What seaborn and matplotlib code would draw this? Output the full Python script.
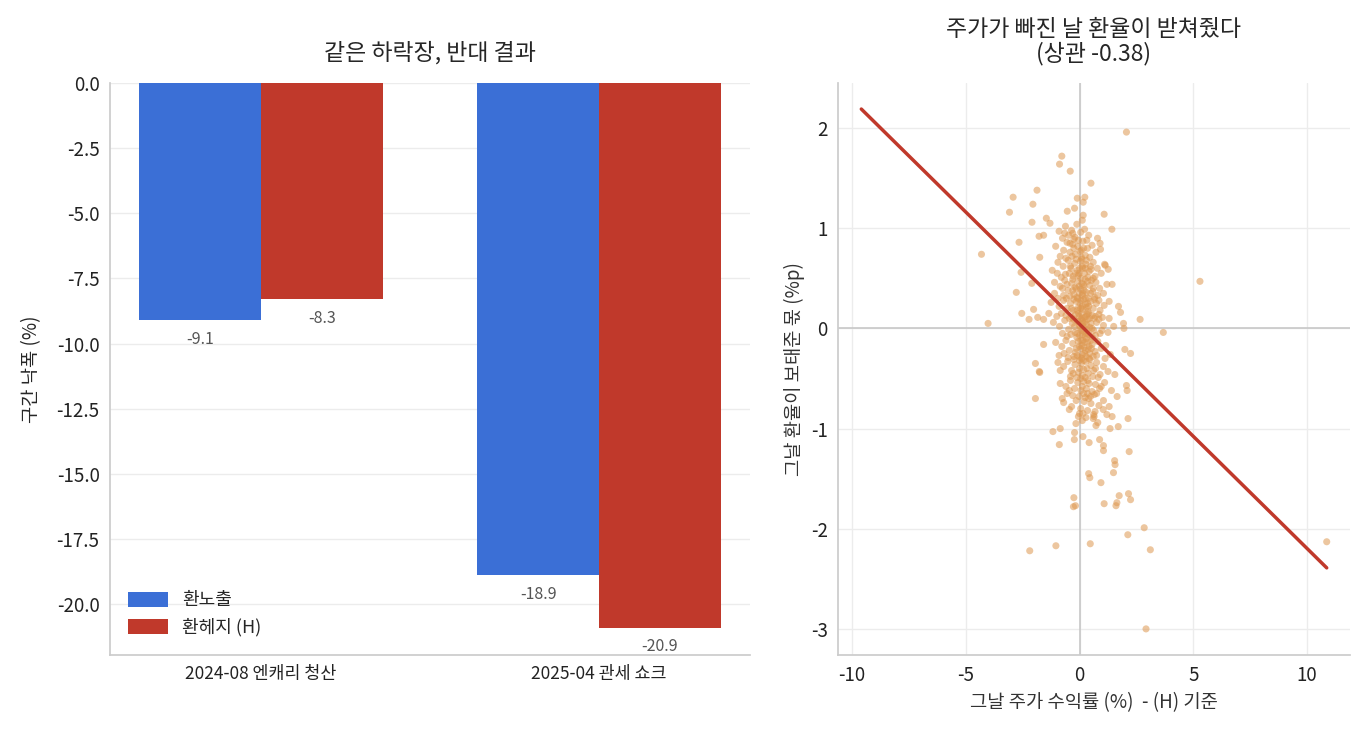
import numpy as np
import pandas as pd
import matplotlib
matplotlib.use("Agg")
import matplotlib.pyplot as plt
import seaborn as sns

# ---- bar data: drawdown per episode
episodes = ["2024-08 엔캐리 청산", "2025-04 관세 쇼크"]
unhedged = [-9.1, -18.9]
hedged = [-8.3, -20.9]
series_names = ["환노출", "환헤지 (H)"]

# ---- scatter data: daily stock return (%) vs FX contribution (%p)
outlier_pts = [
    (2.06, 1.96), (-0.78, 1.72), (-0.88, 1.64), (-0.41, 1.57), (0.50, 1.45),
    (-1.87, 1.38), (-2.92, 1.31), (-2.05, 1.24), (-3.08, 1.16), (0.23, 1.31),
    (-0.10, 1.30), (0.16, 1.26), (-0.54, 1.17), (-0.22, 1.20), (1.08, 1.14),
    (0.16, 1.13), (-1.46, 1.10), (-2.09, 1.06), (-1.30, 1.05), (1.42, 0.99),
    (-1.78, 0.92), (-1.58, 0.93), (-2.66, 0.86), (-4.31, 0.74), (5.29, 0.47),
    (-1.75, 0.71), (-2.57, 0.56), (-2.78, 0.36), (-2.10, 0.45), (-4.02, 0.05),
    (-2.54, 0.15), (-2.22, 0.09), (-1.84, 0.11), (-2.02, 0.19), (-1.58, 0.09),
    (-1.35, 0.15), (2.66, 0.09), (3.68, -0.04), (1.43, 0.44), (0.79, 0.90),
    (0.92, 0.79), (1.13, 0.63), (1.26, 0.59), (1.71, 0.22), (1.80, 0.16),
    (1.93, 0.05), (1.95, 0.00), (1.99, -0.21), (2.24, -0.25), (-1.58, -0.16),
    (-1.94, -0.35), (-1.77, -0.43), (-1.75, -0.44), (-1.94, -0.70), (-0.76, -0.70),
    (-1.17, -1.03), (-0.85, -1.00), (-0.89, -1.16), (-0.23, -1.11), (-0.22, -1.04),
    (0.15, -1.08), (0.42, -1.14), (0.88, -1.11), (1.05, -1.17), (1.05, -1.22),
    (2.18, -1.23), (1.54, -1.32), (1.56, -1.36), (1.49, -1.44), (0.40, -1.45),
    (0.45, -1.49), (0.94, -1.54), (-0.25, -1.69), (-0.27, -1.78), (-0.18, -1.77),
    (1.08, -1.75), (1.74, -1.67), (2.15, -1.65), (2.24, -1.71), (1.60, -1.77),
    (1.64, -1.74), (2.84, -1.99), (2.12, -2.06), (3.11, -2.21), (0.47, -2.15),
    (-1.04, -2.17), (-2.19, -2.22), (2.92, -3.00), (2.13, -0.90), (1.70, -0.98),
    (1.34, -1.00), (1.43, -0.88), (0.72, -0.97), (0.80, -0.94), (-0.45, -0.81),
    (-0.16, -0.95), (0.12, -0.92), (0.00, -0.85), (0.64, -0.88), (0.62, -0.86),
    (1.04, -0.81), (1.30, -0.78), (1.65, -0.68), (2.09, -0.62), (2.06, -0.57),
    (1.55, -0.46), (10.86, -2.13),
]

core_pts = [
    (-0.62, 1.02), (-0.35, 0.98), (-0.12, 1.04), (0.05, 0.96), (-0.48, 0.93),
    (-0.20, 0.91), (0.22, 0.99), (-0.75, 0.90), (0.40, 0.93), (-0.05, 0.88),
    (0.12, 1.08), (-0.90, 0.97),
    (-0.55, 0.86), (-0.30, 0.84), (-0.08, 0.82), (0.15, 0.87), (0.35, 0.80),
    (-0.70, 0.78), (-0.42, 0.76), (-0.18, 0.74), (0.02, 0.77), (0.25, 0.73),
    (0.55, 0.83), (-1.05, 0.82), (-0.85, 0.72), (0.72, 0.76), (-0.25, 0.89),
    (0.08, 0.71), (-0.60, 0.70), (0.45, 0.71), (-0.33, 0.72), (0.90, 0.85),
    (-0.95, 0.66), (-0.72, 0.62), (-0.50, 0.68), (-0.38, 0.60), (-0.22, 0.65),
    (-0.10, 0.58), (0.03, 0.67), (0.14, 0.60), (0.28, 0.64), (0.42, 0.57),
    (0.60, 0.66), (0.78, 0.60), (-0.62, 0.54), (-0.28, 0.52), (-0.05, 0.53),
    (0.10, 0.69), (0.22, 0.55), (0.36, 0.51), (0.50, 0.59), (-0.45, 0.55),
    (-0.15, 0.69), (0.95, 0.55), (-1.20, 0.58), (0.68, 0.52), (0.00, 0.60),
    (-0.80, 0.51), (1.10, 0.64), (0.30, 0.68),
    (-1.10, 0.46), (-0.85, 0.42), (-0.65, 0.48), (-0.50, 0.38), (-0.35, 0.45),
    (-0.20, 0.41), (-0.08, 0.47), (0.05, 0.39), (0.18, 0.44), (0.30, 0.36),
    (0.45, 0.43), (0.58, 0.37), (0.72, 0.46), (0.88, 0.40), (1.05, 0.35),
    (-0.42, 0.32), (-0.25, 0.34), (-0.12, 0.31), (0.00, 0.35), (0.12, 0.33),
    (0.24, 0.49), (0.38, 0.30), (0.52, 0.48), (0.66, 0.31), (-0.70, 0.33),
    (-0.95, 0.30), (0.80, 0.33), (1.20, 0.44), (0.10, 0.45), (-0.02, 0.42),
    (0.20, 0.38), (-0.30, 0.49), (0.35, 0.47), (-0.55, 0.44),
    (-1.25, 0.26), (-0.90, 0.22), (-0.70, 0.28), (-0.55, 0.20), (-0.40, 0.25),
    (-0.28, 0.18), (-0.15, 0.27), (-0.05, 0.21), (0.06, 0.28), (0.15, 0.19),
    (0.26, 0.24), (0.37, 0.17), (0.48, 0.27), (0.60, 0.20), (0.74, 0.25),
    (0.90, 0.18), (1.08, 0.23), (1.30, 0.27), (-0.60, 0.13), (-0.35, 0.11),
    (-0.18, 0.14), (-0.02, 0.12), (0.10, 0.15), (0.22, 0.11), (0.33, 0.14),
    (0.44, 0.10), (0.56, 0.13), (0.70, 0.12), (0.85, 0.14), (-0.80, 0.15),
    (0.02, 0.25), (0.18, 0.29), (0.30, 0.21), (-0.10, 0.18), (0.40, 0.22),
    (0.12, 0.22), (-0.25, 0.29), (0.65, 0.29), (1.00, 0.11), (-1.00, 0.12),
    (-1.15, 0.06), (-0.88, 0.02), (-0.65, 0.08), (-0.48, -0.01), (-0.32, 0.05),
    (-0.20, -0.04), (-0.08, 0.07), (0.03, 0.00), (0.12, 0.08), (0.20, -0.03),
    (0.30, 0.04), (0.40, -0.06), (0.50, 0.05), (0.62, -0.02), (0.75, 0.06),
    (0.90, -0.05), (1.05, 0.03), (1.25, -0.04), (-0.55, -0.08), (-0.38, -0.06),
    (-0.12, -0.09), (0.00, -0.07), (0.08, -0.02), (0.16, 0.02), (0.25, -0.08),
    (0.35, 0.09), (0.45, 0.01), (0.56, -0.09), (0.70, -0.07), (-0.25, 0.09),
    (0.05, 0.09), (-0.02, 0.03), (0.22, 0.06), (0.32, -0.01), (0.14, -0.06),
    (0.85, 0.09), (-0.75, -0.05), (1.50, 0.02),
    (-1.05, -0.14), (-0.78, -0.18), (-0.60, -0.12), (-0.45, -0.22), (-0.30, -0.15),
    (-0.18, -0.24), (-0.06, -0.13), (0.05, -0.20), (0.15, -0.12), (0.25, -0.22),
    (0.35, -0.14), (0.45, -0.25), (0.55, -0.16), (0.68, -0.23), (0.80, -0.13),
    (0.95, -0.20), (1.15, -0.17), (-0.50, -0.29), (-0.25, -0.28), (-0.10, -0.27),
    (0.02, -0.29), (0.12, -0.26), (0.22, -0.14), (0.30, -0.28), (0.42, -0.18),
    (0.60, -0.28), (0.75, -0.27), (-0.90, -0.27), (0.10, -0.17), (0.20, -0.19),
    (0.38, -0.21), (-0.02, -0.18), (1.35, -0.26), (0.50, -0.12),
    (-0.95, -0.34), (-0.70, -0.38), (-0.52, -0.33), (-0.35, -0.42), (-0.20, -0.36),
    (-0.05, -0.44), (0.08, -0.35), (0.18, -0.41), (0.28, -0.33), (0.38, -0.45),
    (0.50, -0.37), (0.62, -0.42), (0.75, -0.34), (0.90, -0.46), (1.05, -0.38),
    (-0.40, -0.48), (-0.12, -0.49), (0.12, -0.47), (0.25, -0.49), (0.45, -0.31),
    (0.58, -0.48), (0.00, -0.32), (0.32, -0.40), (1.25, -0.43), (-0.25, -0.31),
    (0.82, -0.49),
    (-0.85, -0.55), (-0.60, -0.58), (-0.40, -0.52), (-0.22, -0.60), (-0.08, -0.54),
    (0.06, -0.62), (0.18, -0.53), (0.30, -0.60), (0.42, -0.55), (0.55, -0.63),
    (0.70, -0.56), (0.88, -0.60), (1.10, -0.54), (-0.30, -0.67), (-0.02, -0.68),
    (0.25, -0.69), (0.48, -0.68), (0.65, -0.66), (0.12, -0.58), (1.40, -0.62),
    (-0.55, -0.65), (0.35, -0.65),
    (-0.70, -0.74), (-0.35, -0.78), (-0.15, -0.72), (0.05, -0.80), (0.20, -0.73),
    (0.35, -0.82), (0.50, -0.75), (0.68, -0.83), (0.85, -0.77), (1.05, -0.72),
    (-0.05, -0.88), (0.28, -0.89), (0.60, -0.90), (1.20, -0.86), (0.15, -0.85),
    (-0.15, 0.40), (0.05, 0.50), (0.25, 0.30), (-0.05, 0.15), (0.15, 0.05),
    (0.30, -0.10), (0.10, -0.30), (-0.10, -0.05), (0.05, 0.20), (0.20, 0.42),
    (-0.30, 0.38), (0.40, 0.15), (0.28, -0.05), (0.18, -0.32), (-0.08, 0.30),
    (0.35, 0.25), (0.10, 0.10), (-0.22, 0.02), (0.42, -0.30), (0.55, 0.00),
    (0.06, -0.12), (-0.15, -0.20), (0.28, 0.12), (-0.35, 0.20), (0.48, 0.35),
    (0.15, 0.35), (-0.02, 0.55), (0.22, -0.25), (0.00, -0.40), (0.36, -0.52),
    (-0.18, 0.55), (0.12, 0.62), (-0.40, 0.62), (0.08, 0.78), (-0.25, 0.80),
    (0.52, -0.20), (0.64, 0.10), (0.60, 0.40), (-0.45, 0.10), (0.25, 0.60),
    (0.05, -0.50), (-0.28, -0.45), (0.40, -0.70), (0.18, -0.65), (0.70, -0.40),
    (-0.58, 0.30), (-0.75, 0.40), (-0.98, 0.55), (-0.42, 0.85), (-0.65, 0.95),
    (0.32, 0.88), (0.60, 0.50), (0.85, 0.28), (0.98, -0.02), (1.12, -0.30),
    (1.30, 0.10), (-0.85, -0.42), (-0.68, -0.25), (0.95, -0.58), (0.75, -0.65),
    (-0.45, -0.62), (-1.10, 0.35), (-0.30, 0.95), (0.18, 0.80), (0.48, 0.62),
]

# OLS fit
fit_x_ends = [-9.59, 10.86]
fit_slope = -0.224
fit_intercept = 0.042
corr_value = -0.38

BLUE = "#3b6fd6"
RED = "#c0392b"
DOT = "#de9850"

sns.set_theme(style="whitegrid")
plt.rcParams["font.family"] = ["Noto Sans CJK KR", "DejaVu Sans"]
plt.rcParams["axes.unicode_minus"] = False
plt.rcParams["axes.edgecolor"] = "#cccccc"
plt.rcParams["grid.color"] = "#ececec"
plt.rcParams["xtick.major.size"] = 4
plt.rcParams["ytick.major.size"] = 4
plt.rcParams["xtick.color"] = "#222222"
plt.rcParams["ytick.color"] = "#222222"

fig, (ax1, ax2) = plt.subplots(1, 2, figsize=(13.65, 7.35), dpi=100,
                               gridspec_kw={"width_ratios": [640, 512]})
fig.subplots_adjust(left=0.0806, right=0.989, top=0.887, bottom=0.109, wspace=0.153)

# ---- left: bars
bars_df = pd.DataFrame({
    "episode": episodes * 2,
    "drop": unhedged + hedged,
    "kind": [series_names[0]] * 2 + [series_names[1]] * 2,
})
sns.barplot(data=bars_df, x="episode", y="drop", hue="kind", width=0.72,
            palette={series_names[0]: BLUE, series_names[1]: RED},
            saturation=1, linewidth=0, ax=ax1)
for cont in ax1.containers:
    for b in cont:
        h = b.get_height()
        ax1.text(b.get_x() + b.get_width() / 2, h - 0.4, f"{h:.1f}",
                 ha="center", va="top", fontsize=11.5, color="#555555")
ax1.set_xlim(-0.446, 1.446)
ax1.set_ylim(-21.95, 0)
ax1.grid(axis="x", visible=False)
ax1.set_title("같은 하락장, 반대 결과", fontsize=16.5, pad=17)
ax1.set_xlabel("")
ax1.set_ylabel("구간 낙폭 (%)", fontsize=13.5, labelpad=10)
ax1.tick_params(axis="y", labelsize=13.5)
ax1.tick_params(axis="x", labelsize=12.5)
ax1.legend(loc="lower left", frameon=False, fontsize=13, borderaxespad=0.6,
           handlelength=2.2, handleheight=0.9, labelspacing=0.5)
sns.despine(ax=ax1)

# ---- right: scatter
pts = pd.DataFrame(outlier_pts + core_pts, columns=["stock", "fx"])
ax2.axhline(0, color="#c4c4c4", lw=1.1, zorder=1)
ax2.axvline(0, color="#c4c4c4", lw=1.1, zorder=1)
sns.scatterplot(data=pts, x="stock", y="fx", color=DOT, alpha=0.55, s=26,
                edgecolor="none", ax=ax2, zorder=2)
fx = np.array(fit_x_ends)
ax2.plot(fx, fit_slope * fx + fit_intercept, color=RED, lw=2.5, zorder=3)
ax2.set_title(f"주가가 빠진 날 환율이 받쳐줬다\n(상관 {corr_value:.2f})",
              fontsize=16.5, pad=16, linespacing=1.05)
ax2.set_xlabel("그날 주가 수익률 (%)  - (H) 기준", fontsize=13.5, color="#333333")
ax2.set_ylabel("그날 환율이 보태준 몫 (%p)", fontsize=13.5, color="#333333")
ax2.set_xticks([-10, -5, 0, 5, 10])
ax2.set_yticks([-3, -2, -1, 0, 1, 2])
ax2.tick_params(labelsize=13.5)
sns.despine(ax=ax2)

fig.savefig("out.png", dpi=100)
